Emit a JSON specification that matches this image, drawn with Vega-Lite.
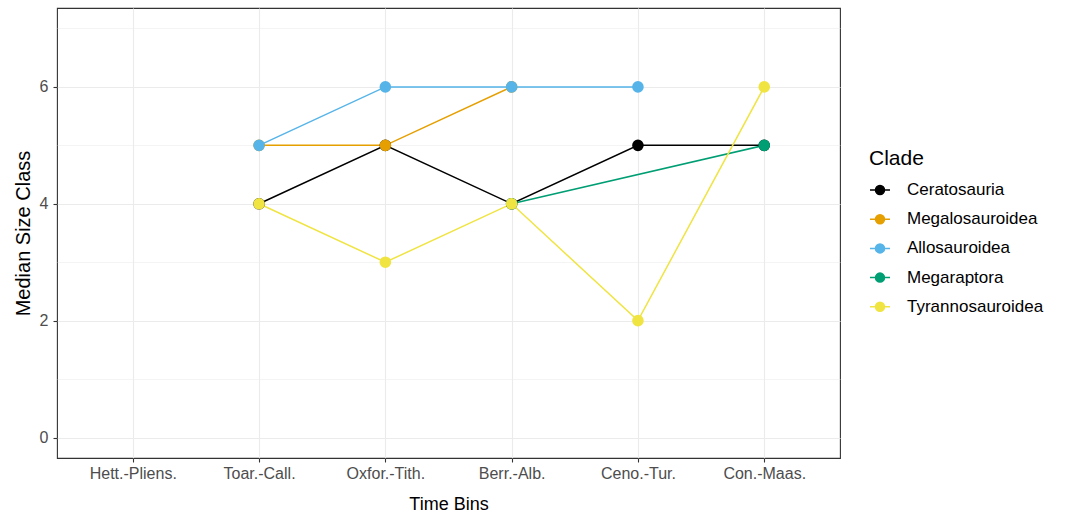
{
  "$schema": "https://vega.github.io/schema/vega-lite/v6.json",
  "width": 783,
  "height": 450,
  "autosize": "none",
  "padding": {"left": 57, "top": 8, "right": 225, "bottom": 59},
  "background": "white",
  "config": {
    "font": "Liberation Sans",
    "view": {"stroke": "#333333", "strokeWidth": 1.1},
    "axis": {
      "domain": false,
      "gridColor": "#EBEBEB",
      "gridWidth": 1.1,
      "tickColor": "#333333",
      "tickWidth": 1.1,
      "tickSize": 4,
      "labelColor": "#4D4D4D",
      "labelFontSize": 16,
      "labelFont": "Liberation Sans",
      "titleFont": "Liberation Sans",
      "titleFontSize": 20,
      "titleFontWeight": "normal",
      "titleColor": "#000000"
    }
  },
  "data": {
    "values": [
      {"bin": "Toar.-Call.", "clade": "Ceratosauria", "size": 4},
      {"bin": "Oxfor.-Tith.", "clade": "Ceratosauria", "size": 5},
      {"bin": "Berr.-Alb.", "clade": "Ceratosauria", "size": 4},
      {"bin": "Ceno.-Tur.", "clade": "Ceratosauria", "size": 5},
      {"bin": "Con.-Maas.", "clade": "Ceratosauria", "size": 5},
      {"bin": "Toar.-Call.", "clade": "Megalosauroidea", "size": 5},
      {"bin": "Oxfor.-Tith.", "clade": "Megalosauroidea", "size": 5},
      {"bin": "Berr.-Alb.", "clade": "Megalosauroidea", "size": 6},
      {"bin": "Toar.-Call.", "clade": "Allosauroidea", "size": 5},
      {"bin": "Oxfor.-Tith.", "clade": "Allosauroidea", "size": 6},
      {"bin": "Berr.-Alb.", "clade": "Allosauroidea", "size": 6},
      {"bin": "Ceno.-Tur.", "clade": "Allosauroidea", "size": 6},
      {"bin": "Berr.-Alb.", "clade": "Megaraptora", "size": 4},
      {"bin": "Con.-Maas.", "clade": "Megaraptora", "size": 5},
      {"bin": "Toar.-Call.", "clade": "Tyrannosauroidea", "size": 4},
      {"bin": "Oxfor.-Tith.", "clade": "Tyrannosauroidea", "size": 3},
      {"bin": "Berr.-Alb.", "clade": "Tyrannosauroidea", "size": 4},
      {"bin": "Ceno.-Tur.", "clade": "Tyrannosauroidea", "size": 2},
      {"bin": "Con.-Maas.", "clade": "Tyrannosauroidea", "size": 6}
    ]
  },
  "encoding": {
    "x": {
      "field": "bin",
      "type": "ordinal",
      "sort": null,
      "scale": {
        "type": "point",
        "padding": 0.6,
        "domain": ["Hett.-Pliens.", "Toar.-Call.", "Oxfor.-Tith.", "Berr.-Alb.", "Ceno.-Tur.", "Con.-Maas."]
      },
      "axis": {"title": "Time Bins", "labelAngle": 0, "labelPadding": 3, "titlePadding": 14, "titleFontSize": 18, "grid": true}
    },
    "color": {
      "field": "clade",
      "type": "nominal",
      "sort": null,
      "scale": {
        "domain": ["Ceratosauria", "Megalosauroidea", "Allosauroidea", "Megaraptora", "Tyrannosauroidea"],
        "range": ["#000000", "#E69F00", "#56B4E9", "#009E73", "#F0E442"]
      },
      "legend": {
        "title": "Clade",
        "orient": "none",
        "legendX": 812,
        "legendY": 140,
        "padding": 0,
        "titleFontSize": 21,
        "titleFontWeight": "normal",
        "titleColor": "#000000",
        "titlePadding": 10,
        "labelFontSize": 17,
        "labelColor": "#000000",
        "labelOffset": 16,
        "rowPadding": 10.2,
        "symbolSize": 400,
        "symbolType": "M-1,0H1M-0.45,0A0.45,0.45 0 1,0 0.45,0A0.45,0.45 0 1,0 -0.45,0Z",
        "symbolStrokeWidth": 1.5,
        "encode": {
          "symbols": {
            "update": {
              "fill": {"scale": "color", "field": "value"},
              "stroke": {"scale": "color", "field": "value"},
              "strokeWidth": {"value": 1.5},
              "opacity": {"value": 1},
              "fillOpacity": {"value": 1}
            }
          }
        }
      }
    }
  },
  "layer": [
    {
      "mark": {"type": "line", "strokeWidth": 1.5},
      "encoding": {
        "y": {
          "field": "size",
          "type": "quantitative",
          "scale": {"domain": [-0.35, 7.35], "nice": false, "zero": false},
          "axis": {"orient": "left", "values": [1, 3, 5, 7], "grid": true, "gridWidth": 0.55, "gridColor": "#EBEBEB", "labels": false, "ticks": false, "title": null}
        },
        "order": {"value": null}
      }
    },
    {
      "mark": {"type": "circle", "size": 135, "opacity": 1},
      "encoding": {
        "y": {
          "field": "size",
          "type": "quantitative",
          "scale": {"domain": [-0.35, 7.35], "nice": false, "zero": false},
          "axis": {"orient": "left", "values": [0, 2, 4, 6], "grid": true, "title": "Median Size Class", "labelPadding": 5, "titlePadding": 6}
        }
      }
    }
  ],
  "resolve": {"axis": {"y": "independent"}}
}
